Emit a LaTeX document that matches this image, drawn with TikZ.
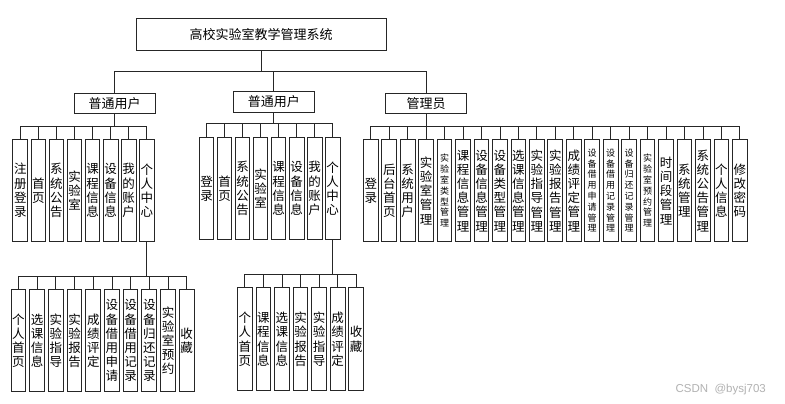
\documentclass[tikz,border=0pt]{standalone}
\usepackage{fontspec}
\newfontfamily\cjk{Noto Sans CJK SC}
\newfontfamily\wmfont{Liberation Sans}
\tikzset{
  box/.style={draw=black!85, line width=1pt, fill=white, inner sep=0pt},
  rootbox/.style={box, minimum width=250pt, minimum height=32pt, font=\cjk\fontsize{13}{15}\selectfont},
  midbox/.style={box, minimum width=81pt, minimum height=20.5pt, font=\cjk\fontsize{13}{15}\selectfont},
  leaf/.style={box, minimum width=14.7pt, minimum height=102.5pt, align=center, font=\cjk\fontsize{12.5}{14.2}\selectfont},
  smallfont/.style={font=\cjk\fontsize{9}{10.8}\selectfont},
  conn/.style={draw=black!85, line width=0.8pt}
}
\begin{document}
\begin{tikzpicture}[x=1pt,y=-1pt]
\useasboundingbox[fill=white] (0,0) rectangle (785,404);

% root and level 1
\node[rootbox] (root) at (261,35) {高校实验室教学管理系统};
\node[midbox] (A) at (114.5,103.3) {普通用户};
\node[midbox] (B) at (273.8,102) {普通用户};
\node[midbox] (C) at (426,103.7) {管理员};

% A leaves
\node[leaf] (a1) at ({20.3+18.07*0},190.5) {注\\册\\登\\录};
\node[leaf] (a2) at ({20.3+18.07*1},190.5) {首\\页};
\node[leaf] (a3) at ({20.3+18.07*2},190.5) {系\\统\\公\\告};
\node[leaf] (a4) at ({20.3+18.07*3},190.5) {实\\验\\室};
\node[leaf] (a5) at ({20.3+18.07*4},190.5) {课\\程\\信\\息};
\node[leaf] (a6) at ({20.3+18.07*5},190.5) {设\\备\\信\\息};
\node[leaf] (a7) at ({20.3+18.07*6},190.5) {我\\的\\账\\户};
\node[leaf] (a8) at ({20.3+18.07*7},190.5) {个\\人\\中\\心};

% B leaves
\node[leaf] (b1) at ({206.5+18.03*0},188.5) {登\\录};
\node[leaf] (b2) at ({206.5+18.03*1},188.5) {首\\页};
\node[leaf] (b3) at ({206.5+18.03*2},188.5) {系\\统\\公\\告};
\node[leaf] (b4) at ({206.5+18.03*3},188.5) {实\\验\\室};
\node[leaf] (b5) at ({206.5+18.03*4},188.5) {课\\程\\信\\息};
\node[leaf] (b6) at ({206.5+18.03*5},188.5) {设\\备\\信\\息};
\node[leaf] (b7) at ({206.5+18.03*6},188.5) {我\\的\\账\\户};
\node[leaf] (b8) at ({206.5+18.03*7},188.5) {个\\人\\中\\心};

% C leaves
\node[leaf] (c1) at ({370.8+18.45*0},190.7) {登\\录};
\node[leaf] (c2) at ({370.8+18.45*1},190.7) {后\\台\\首\\页};
\node[leaf] (c3) at ({370.8+18.45*2},190.7) {系\\统\\用\\户};
\node[leaf] (c4) at ({370.8+18.45*3},190.7) {实\\验\\室\\管\\理};
\node[leaf,smallfont] (c5) at ({370.8+18.45*4},190.7) {实\\验\\室\\类\\型\\管\\理};
\node[leaf] (c6) at ({370.8+18.45*5},190.7) {课\\程\\信\\息\\管\\理};
\node[leaf] (c7) at ({370.8+18.45*6},190.7) {设\\备\\信\\息\\管\\理};
\node[leaf] (c8) at ({370.8+18.45*7},190.7) {设\\备\\类\\型\\管\\理};
\node[leaf] (c9) at ({370.8+18.45*8},190.7) {选\\课\\信\\息\\管\\理};
\node[leaf] (c10) at ({370.8+18.45*9},190.7) {实\\验\\指\\导\\管\\理};
\node[leaf] (c11) at ({370.8+18.45*10},190.7) {实\\验\\报\\告\\管\\理};
\node[leaf] (c12) at ({370.8+18.45*11},190.7) {成\\绩\\评\\定\\管\\理};
\node[leaf,smallfont] (c13) at ({370.8+18.45*12},190.7) {设\\备\\借\\用\\申\\请\\管\\理};
\node[leaf,smallfont] (c14) at ({370.8+18.45*13},190.7) {设\\备\\借\\用\\记\\录\\管\\理};
\node[leaf,smallfont] (c15) at ({370.8+18.45*14},190.7) {设\\备\\归\\还\\记\\录\\管\\理};
\node[leaf,smallfont] (c16) at ({370.8+18.45*15},190.7) {实\\验\\室\\预\\约\\管\\理};
\node[leaf] (c17) at ({370.8+18.45*16},190.7) {时\\间\\段\\管\\理};
\node[leaf] (c18) at ({370.8+18.45*17},190.7) {系\\统\\管\\理};
\node[leaf] (c19) at ({370.8+18.45*18},190.7) {系\\统\\公\\告\\管\\理};
\node[leaf] (c20) at ({370.8+18.45*19},190.7) {个\\人\\信\\息};
\node[leaf] (c21) at ({370.8+18.45*20},190.7) {修\\改\\密\\码};

% sub A leaves (under a8)
\node[leaf] (d1) at ({18.5+18.69*0},340.7) {个\\人\\首\\页};
\node[leaf] (d2) at ({18.5+18.69*1},340.7) {选\\课\\信\\息};
\node[leaf] (d3) at ({18.5+18.69*2},340.7) {实\\验\\指\\导};
\node[leaf] (d4) at ({18.5+18.69*3},340.7) {实\\验\\报\\告};
\node[leaf] (d5) at ({18.5+18.69*4},340.7) {成\\绩\\评\\定};
\node[leaf] (d6) at ({18.5+18.69*5},340.7) {设\\备\\借\\用\\申\\请};
\node[leaf] (d7) at ({18.5+18.69*6},340.7) {设\\备\\借\\用\\记\\录};
\node[leaf] (d8) at ({18.5+18.69*7},340.7) {设\\备\\归\\还\\记\\录};
\node[leaf] (d9) at ({18.5+18.69*8},340.7) {实\\验\\室\\预\\约};
\node[leaf] (d10) at ({18.5+18.69*9},340.7) {收\\藏};

% sub B leaves (under b8)
\node[leaf] (e1) at ({244.8+18.57*0},339.2) {个\\人\\首\\页};
\node[leaf] (e2) at ({244.8+18.57*1},339.2) {课\\程\\信\\息};
\node[leaf] (e3) at ({244.8+18.57*2},339.2) {选\\课\\信\\息};
\node[leaf] (e4) at ({244.8+18.57*3},339.2) {实\\验\\报\\告};
\node[leaf] (e5) at ({244.8+18.57*4},339.2) {实\\验\\指\\导};
\node[leaf] (e6) at ({244.8+18.57*5},339.2) {成\\绩\\评\\定};
\node[leaf] (e7) at ({244.8+18.57*6},339.2) {收\\藏};

% connectors
\foreach \n in {A,B,C}
  \draw[conn] (root.south) |- (\n.north |- 0,71.5) -- (\n.north);
\foreach \i in {1,...,8}
  \draw[conn] (A.south) |- (a\i.north |- 0,126.7) -- (a\i.north);
\foreach \i in {1,...,8}
  \draw[conn] (B.south) |- (b\i.north |- 0,123.3) -- (b\i.north);
\foreach \i in {1,...,21}
  \draw[conn] (C.south) |- (c\i.north |- 0,126.3) -- (c\i.north);
\foreach \i in {1,...,10}
  \draw[conn] (a8.south) |- (d\i.north |- 0,276) -- (d\i.north);
\foreach \i in {1,...,7}
  \draw[conn] (b8.south) |- (e\i.north |- 0,274.3) -- (e\i.north);

% watermark
\node[font=\wmfont\fontsize{11.5}{13}\selectfont, text=black!30, anchor=west] (wm) at (672,390) {CSDN\ \ @bysj703};
\end{tikzpicture}
\end{document}
